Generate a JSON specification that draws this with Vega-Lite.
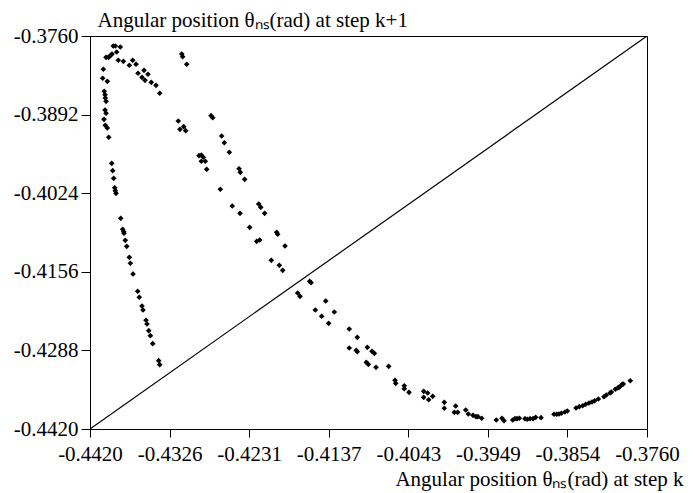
{
  "$schema": "https://vega.github.io/schema/vega-lite/v6.json",
  "width": 557,
  "height": 393,
  "autosize": {"type": "none"},
  "padding": {"left": 90, "top": 36, "right": 46, "bottom": 64},
  "background": "white",
  "config": {
    "font": "Liberation Serif",
    "view": {"stroke": "black", "strokeWidth": 1},
    "axis": {
      "grid": false,
      "domainColor": "black",
      "domainWidth": 1,
      "tickColor": "black",
      "tickWidth": 1,
      "labelColor": "black",
      "titleColor": "black",
      "labelFont": "Liberation Serif",
      "titleFont": "Liberation Serif",
      "labelFontSize": 21,
      "titleFontSize": 21,
      "titleFontWeight": "normal",
      "labelOverlap": false,
      "labelBound": false,
      "labelFlush": false
    }
  },
  "datasets": {
    "pts": [
      {"a": -0.43924, "b": -0.37768}, {"a": -0.43900, "b": -0.37768}, {"a": -0.43841, "b": -0.37785},
      {"a": -0.43884, "b": -0.37869}, {"a": -0.43939, "b": -0.37902}, {"a": -0.43955, "b": -0.37924},
      {"a": -0.43971, "b": -0.37948}, {"a": -0.44010, "b": -0.37958}, {"a": -0.43983, "b": -0.37958},
      {"a": -0.43865, "b": -0.38008}, {"a": -0.43805, "b": -0.38025}, {"a": -0.43734, "b": -0.38092},
      {"a": -0.43694, "b": -0.38008}, {"a": -0.43655, "b": -0.38075}, {"a": -0.43631, "b": -0.38226},
      {"a": -0.43560, "b": -0.38176}, {"a": -0.43584, "b": -0.38294}, {"a": -0.43548, "b": -0.38344},
      {"a": -0.43513, "b": -0.38243}, {"a": -0.43474, "b": -0.38378}, {"a": -0.43418, "b": -0.38428},
      {"a": -0.43374, "b": -0.38562},
      {"a": -0.44042, "b": -0.38159}, {"a": -0.44050, "b": -0.38310}, {"a": -0.43995, "b": -0.38361},
      {"a": -0.44031, "b": -0.38529}, {"a": -0.44022, "b": -0.38586}, {"a": -0.44019, "b": -0.38641},
      {"a": -0.44010, "b": -0.38697}, {"a": -0.44022, "b": -0.38843}, {"a": -0.44010, "b": -0.38898},
      {"a": -0.44034, "b": -0.38999}, {"a": -0.44019, "b": -0.39100}, {"a": -0.43995, "b": -0.39145},
      {"a": -0.43978, "b": -0.39301}, {"a": -0.43943, "b": -0.39738}, {"a": -0.43931, "b": -0.39862},
      {"a": -0.43919, "b": -0.39990}, {"a": -0.43907, "b": -0.40148}, {"a": -0.43900, "b": -0.40198},
      {"a": -0.43892, "b": -0.40242}, {"a": -0.43836, "b": -0.40662}, {"a": -0.43813, "b": -0.40846},
      {"a": -0.43801, "b": -0.40887}, {"a": -0.43797, "b": -0.40913}, {"a": -0.43782, "b": -0.41031},
      {"a": -0.43765, "b": -0.41132}, {"a": -0.43734, "b": -0.41317}, {"a": -0.43722, "b": -0.41417},
      {"a": -0.43690, "b": -0.41597}, {"a": -0.43635, "b": -0.41887}, {"a": -0.43616, "b": -0.41988},
      {"a": -0.43584, "b": -0.42134}, {"a": -0.43572, "b": -0.42202}, {"a": -0.43536, "b": -0.42374},
      {"a": -0.43525, "b": -0.42437}, {"a": -0.43504, "b": -0.42549}, {"a": -0.43485, "b": -0.42633},
      {"a": -0.43457, "b": -0.42767}, {"a": -0.43386, "b": -0.43053}, {"a": -0.43374, "b": -0.43120},
      {"a": -0.43113, "b": -0.37902}, {"a": -0.43102, "b": -0.37948}, {"a": -0.43054, "b": -0.38075},
      {"a": -0.43154, "b": -0.39027}, {"a": -0.43134, "b": -0.39167}, {"a": -0.43090, "b": -0.39123},
      {"a": -0.43066, "b": -0.39190}, {"a": -0.42766, "b": -0.38938}, {"a": -0.42746, "b": -0.38972},
      {"a": -0.42640, "b": -0.39279}, {"a": -0.42609, "b": -0.39392}, {"a": -0.42549, "b": -0.39553},
      {"a": -0.42908, "b": -0.39610}, {"a": -0.42881, "b": -0.39598}, {"a": -0.42858, "b": -0.39637},
      {"a": -0.42881, "b": -0.39704}, {"a": -0.42834, "b": -0.39704}, {"a": -0.42817, "b": -0.39839},
      {"a": -0.42656, "b": -0.40174}, {"a": -0.42434, "b": -0.39829}, {"a": -0.42419, "b": -0.39889},
      {"a": -0.42367, "b": -0.40007}, {"a": -0.42514, "b": -0.40455}, {"a": -0.42423, "b": -0.40578},
      {"a": -0.42201, "b": -0.40421}, {"a": -0.42177, "b": -0.40477}, {"a": -0.42130, "b": -0.40578},
      {"a": -0.42308, "b": -0.40813}, {"a": -0.42225, "b": -0.41048}, {"a": -0.42189, "b": -0.41026},
      {"a": -0.41988, "b": -0.40897}, {"a": -0.41976, "b": -0.40930}, {"a": -0.41889, "b": -0.41127},
      {"a": -0.42052, "b": -0.41367}, {"a": -0.41957, "b": -0.41451}, {"a": -0.41917, "b": -0.41535},
      {"a": -0.41597, "b": -0.41720}, {"a": -0.41581, "b": -0.41743}, {"a": -0.41739, "b": -0.41916},
      {"a": -0.41712, "b": -0.41972}, {"a": -0.41407, "b": -0.42050}, {"a": -0.41530, "b": -0.42202},
      {"a": -0.41305, "b": -0.42235}, {"a": -0.41455, "b": -0.42307}, {"a": -0.41372, "b": -0.42425},
      {"a": -0.41128, "b": -0.42521}, {"a": -0.41033, "b": -0.42660}, {"a": -0.41128, "b": -0.42840},
      {"a": -0.41045, "b": -0.42878}, {"a": -0.41033, "b": -0.42902}, {"a": -0.40914, "b": -0.42828},
      {"a": -0.40859, "b": -0.42895}, {"a": -0.40831, "b": -0.42929}, {"a": -0.40926, "b": -0.43080},
      {"a": -0.40902, "b": -0.43114}, {"a": -0.40811, "b": -0.43164}, {"a": -0.40661, "b": -0.43147},
      {"a": -0.40586, "b": -0.43382}, {"a": -0.40578, "b": -0.43433}, {"a": -0.40476, "b": -0.43473},
      {"a": -0.40476, "b": -0.43523}, {"a": -0.40420, "b": -0.43584}, {"a": -0.40246, "b": -0.43567},
      {"a": -0.40199, "b": -0.43595}, {"a": -0.40139, "b": -0.43651}, {"a": -0.40246, "b": -0.43668},
      {"a": -0.40187, "b": -0.43708}, {"a": -0.40002, "b": -0.43752}, {"a": -0.40002, "b": -0.43852},
      {"a": -0.39867, "b": -0.43814}, {"a": -0.39883, "b": -0.43920}, {"a": -0.39843, "b": -0.43920},
      {"a": -0.39748, "b": -0.43881}, {"a": -0.39717, "b": -0.43948}, {"a": -0.39662, "b": -0.43970},
      {"a": -0.39626, "b": -0.43993}, {"a": -0.39603, "b": -0.43993}, {"a": -0.39559, "b": -0.44020},
      {"a": -0.39386, "b": -0.44049}, {"a": -0.39318, "b": -0.44020}, {"a": -0.39294, "b": -0.44061},
      {"a": -0.39191, "b": -0.44049}, {"a": -0.39164, "b": -0.44027}, {"a": -0.39140, "b": -0.44027},
      {"a": -0.39113, "b": -0.44020}, {"a": -0.39046, "b": -0.44027}, {"a": -0.39018, "b": -0.44037},
      {"a": -0.38986, "b": -0.44027}, {"a": -0.38951, "b": -0.44027}, {"a": -0.38919, "b": -0.44004},
      {"a": -0.38856, "b": -0.44010}, {"a": -0.38702, "b": -0.43953}, {"a": -0.38670, "b": -0.43953},
      {"a": -0.38643, "b": -0.43948}, {"a": -0.38615, "b": -0.43936}, {"a": -0.38572, "b": -0.43914},
      {"a": -0.38544, "b": -0.43898}, {"a": -0.38441, "b": -0.43847}, {"a": -0.38402, "b": -0.43825},
      {"a": -0.38362, "b": -0.43809}, {"a": -0.38326, "b": -0.43785}, {"a": -0.38287, "b": -0.43763},
      {"a": -0.38252, "b": -0.43747}, {"a": -0.38220, "b": -0.43725}, {"a": -0.38177, "b": -0.43696},
      {"a": -0.38110, "b": -0.43658}, {"a": -0.38082, "b": -0.43629}, {"a": -0.38038, "b": -0.43595},
      {"a": -0.38023, "b": -0.43579}, {"a": -0.37976, "b": -0.43533}, {"a": -0.37947, "b": -0.43511},
      {"a": -0.37932, "b": -0.43500}, {"a": -0.37912, "b": -0.43478}, {"a": -0.37893, "b": -0.43449},
      {"a": -0.37881, "b": -0.43444}, {"a": -0.37798, "b": -0.43389}
    ],
    "diag": [{"a": -0.442, "b": -0.442}, {"a": -0.376, "b": -0.376}]
  },
  "layer": [
    {
      "data": {"name": "diag"},
      "mark": {"type": "line", "color": "black", "strokeWidth": 1.2, "clip": true},
      "encoding": {
        "x": {"field": "a", "type": "quantitative"},
        "y": {"field": "b", "type": "quantitative"}
      }
    },
    {
      "data": {"name": "pts"},
      "mark": {"type": "point", "shape": "diamond", "filled": true, "color": "black", "size": 32, "opacity": 1},
      "encoding": {
        "x": {
          "field": "a",
          "type": "quantitative",
          "scale": {"domain": [-0.442, -0.376], "nice": false, "zero": false},
          "axis": {
            "values": [-0.442, -0.43964286, -0.43728571, -0.43492857, -0.43257143, -0.43021429, -0.42785714, -0.4255, -0.42314286, -0.42078571, -0.41842857, -0.41607143, -0.41371429, -0.41135714, -0.409, -0.40664286, -0.40428571, -0.40192857, -0.39957143, -0.39721429, -0.39485714, -0.3925, -0.39014286, -0.38778571, -0.38542857, -0.38307143, -0.38071429, -0.37835714, -0.376],
            "labelExpr": "abs((datum.value+0.442)/0.00942857 - round((datum.value+0.442)/0.00942857)) < 0.1 ? '-' + format(-datum.value, '.4f') : ''",
            "tickSize": {"condition": {"test": "abs((datum.value+0.442)/0.00942857 - round((datum.value+0.442)/0.00942857)) < 0.1", "value": 8}, "value": 5},
            "labelPadding": 6,
            "labelDx": 7,
            "title": "Angular position  θₙₛ(rad) at step k",
            "titleX": 593,
            "titleY": 56,
            "titleAlign": "right",
            "titleBaseline": "alphabetic",
            "titleAnchor": null
          }
        },
        "y": {
          "field": "b",
          "type": "quantitative",
          "scale": {"domain": [-0.442, -0.376], "nice": false, "zero": false},
          "axis": {
            "values": [-0.442, -0.4387, -0.4354, -0.4321, -0.4288, -0.4255, -0.4222, -0.4189, -0.4156, -0.4123, -0.409, -0.4057, -0.4024, -0.3991, -0.3958, -0.3925, -0.3892, -0.3859, -0.3826, -0.3793, -0.376],
            "labelExpr": "abs((datum.value+0.442)/0.0132 - round((datum.value+0.442)/0.0132)) < 0.1 ? '-' + format(-datum.value, '.4f') : ''",
            "tickSize": {"condition": {"test": "abs((datum.value+0.442)/0.0132 - round((datum.value+0.442)/0.0132)) < 0.1", "value": 9}, "value": 4},
            "labelPadding": 3,
            "title": "Angular position  θₙₛ(rad) at step k+1",
            "titleAngle": 0,
            "titleX": 7,
            "titleY": -10,
            "titleAlign": "left",
            "titleBaseline": "alphabetic",
            "titleAnchor": null
          }
        }
      }
    }
  ]
}
